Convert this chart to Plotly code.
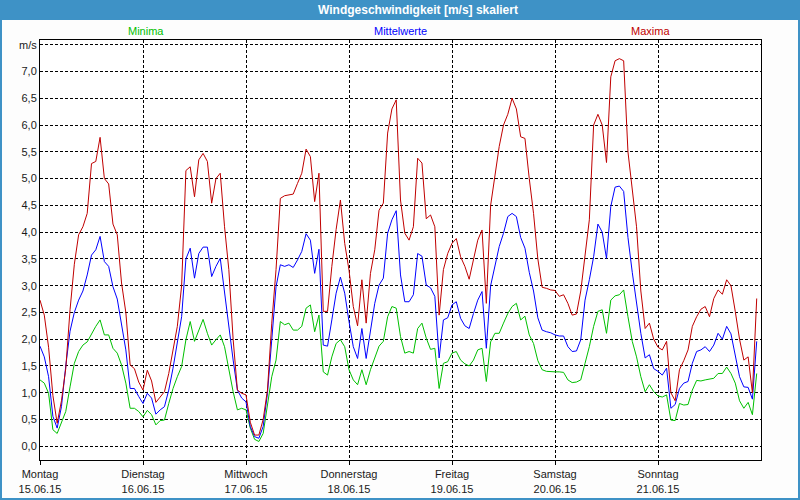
import plotly.graph_objects as go

hours = list(range(168))

maxima = [
    2.73, 2.45, 1.85, 0.95, 0.43, 0.85, 1.45, 2.55, 3.4, 3.95,
    4.1, 4.35, 5.28, 5.32, 5.77, 5.0, 4.9, 4.15, 3.95, 3.05,
    2.5, 1.52, 1.45, 1.2, 1.05, 1.42, 1.22, 0.82, 0.92, 1.02,
    1.36, 1.80, 2.24, 3.0, 5.15, 5.22, 4.66, 5.35, 5.47, 5.32,
    4.54, 5.0, 5.10, 4.1, 3.3, 2.0, 1.05, 0.99, 0.96, 0.45,
    0.21, 0.21, 0.5, 1.05, 2.3, 3.3, 4.63, 4.68, 4.70, 4.71,
    4.91, 5.10, 5.55, 5.41, 4.57, 5.10, 2.52, 2.52, 3.36, 4.05,
    4.60, 3.79, 3.29, 2.61, 2.25, 3.11, 2.30, 3.23, 3.67, 4.41,
    4.54, 5.85, 6.3, 6.47, 4.6, 3.98, 3.85, 4.1, 5.38, 5.29,
    4.25, 4.32, 4.1, 2.45, 3.3, 3.60, 3.79, 3.88, 3.54, 3.36,
    3.12, 3.48, 3.85, 4.04, 2.67, 4.5, 5.1, 5.6, 6.0, 6.2,
    6.5, 6.3, 5.78, 5.75, 5.0, 4.35, 3.5, 2.97, 2.95, 2.92,
    2.91, 2.80, 2.83, 2.67, 2.45, 2.47, 2.9, 3.6, 4.23, 6.0,
    6.2, 6.0, 5.3, 6.9, 7.2, 7.24, 7.2, 5.5, 4.75, 4.1,
    2.9, 2.2, 2.30, 2.0, 1.85, 1.8, 1.96, 1.0, 0.85, 1.43,
    1.6, 1.8, 2.24, 2.42, 2.56, 2.61, 2.42, 2.76, 2.92, 2.84,
    3.11, 3.0, 2.52, 2.0, 1.61, 1.67, 1.0, 2.76,
]

mittelwerte = [
    1.87, 1.67, 1.3, 0.56, 0.34, 0.74, 1.5, 2.15, 2.5, 2.73,
    2.9, 3.2, 3.57, 3.67, 3.92, 3.45, 3.36, 2.98, 2.75, 2.3,
    1.8, 1.08, 1.08, 0.93, 0.8, 0.99, 0.9, 0.6, 0.68, 0.74,
    1.05, 1.46, 1.92, 2.42, 3.5, 3.70, 3.14, 3.60, 3.72, 3.72,
    3.17, 3.36, 3.51, 2.86, 2.24, 1.61, 1.05, 0.90, 0.83, 0.37,
    0.18, 0.15, 0.37, 0.99, 1.99, 2.98, 3.39, 3.36, 3.39, 3.34,
    3.48, 3.64, 3.97, 3.85, 3.23, 3.68, 1.89, 1.87, 2.36, 2.86,
    3.16, 2.86, 2.33, 1.86, 1.64, 2.20, 1.64, 2.17, 2.67, 3.01,
    3.14, 3.98, 4.23, 4.40, 3.2, 2.70, 2.70, 2.83, 3.60, 3.55,
    3.01, 2.96, 2.80, 1.65, 2.36, 2.40, 2.64, 2.70, 2.39, 2.25,
    2.20, 2.48, 2.73, 2.89, 1.83, 3.0, 3.36, 3.73, 3.98, 4.29,
    4.35, 4.29, 3.90, 3.70, 3.25, 2.90, 2.40, 2.17, 2.14, 2.12,
    2.08, 2.06, 2.06, 1.86, 1.77, 1.78, 1.99, 2.73, 3.11, 3.54,
    4.15, 4.0, 3.51, 4.48, 4.84, 4.86, 4.76, 3.9, 3.25, 2.67,
    2.11, 1.65, 1.71, 1.45, 1.40, 1.33, 1.46, 0.71, 0.78, 1.08,
    1.18, 1.21, 1.55, 1.77, 1.80, 1.86, 1.77, 1.89, 2.11, 2.00,
    2.24, 2.10, 1.71, 1.30, 1.11, 1.10, 0.88, 1.96,
]

minima = [
    1.24, 1.18, 0.99, 0.31, 0.24, 0.43, 0.65, 1.11, 1.55, 1.77,
    1.89, 1.95, 2.11, 2.24, 2.36, 2.08, 2.08, 1.83, 1.74, 1.52,
    1.18, 0.71, 0.71, 0.65, 0.55, 0.67, 0.59, 0.4, 0.48, 0.49,
    0.80, 1.08, 1.30, 1.49, 1.99, 2.33, 1.96, 2.17, 2.37, 2.11,
    1.89, 1.99, 2.08, 1.86, 1.43, 1.02, 0.68, 0.71, 0.68, 0.34,
    0.13, 0.09, 0.24, 0.74, 1.30, 1.61, 2.33, 2.27, 2.30, 2.17,
    2.17, 2.24, 2.58, 2.64, 2.14, 2.45, 1.39, 1.33, 1.67, 1.92,
    1.99, 1.86, 1.43, 1.24, 1.15, 1.43, 1.15, 1.43, 1.64, 1.87,
    1.96, 2.42, 2.61, 2.58, 2.05, 1.74, 1.77, 1.74, 2.20, 2.30,
    2.02, 1.81, 1.83, 1.08, 1.55, 1.58, 1.74, 1.77, 1.61, 1.54,
    1.50, 1.61, 1.80, 1.83, 1.21, 1.95, 2.11, 2.11, 2.30, 2.48,
    2.61, 2.67, 2.36, 2.43, 2.08, 1.92, 1.60, 1.43, 1.40, 1.39,
    1.39, 1.39, 1.38, 1.24, 1.19, 1.20, 1.24, 1.55, 1.86, 2.24,
    2.52, 2.55, 2.11, 2.73, 2.81, 2.83, 2.92, 2.42, 1.96, 1.67,
    1.30, 1.02, 1.15, 1.02, 0.94, 0.92, 0.96, 0.49, 0.48, 0.80,
    0.77, 0.78, 1.05, 1.23, 1.22, 1.24, 1.25, 1.27, 1.36, 1.36,
    1.48, 1.36, 1.18, 0.85, 0.71, 0.82, 0.59, 1.36,
]

day_hours = [0, 24, 48, 72, 96, 120, 144]
day_names = ["Montag", "Dienstag", "Mittwoch", "Donnerstag", "Freitag", "Samstag", "Sonntag"]
day_dates = ["15.06.15", "16.06.15", "17.06.15", "18.06.15", "19.06.15", "20.06.15", "21.06.15"]

y_ticks = [0, 0.5, 1, 1.5, 2, 2.5, 3, 3.5, 4, 4.5, 5, 5.5, 6, 6.5, 7, 7.5]
y_tick_labels = ["0,0", "0,5", "1,0", "1,5", "2,0", "2,5", "3,0", "3,5", "4,0",
                 "4,5", "5,0", "5,5", "6,0", "6,5", "7,0", "m/s"]

title_text = "Windgeschwindigkeit [m/s] skaliert"
series_names = ["Minima", "Mittelwerte", "Maxima"]
series_colors = ["#00c000", "#0000ff", "#c00000"]

W, H = 800, 500
ML, MR, MT, MB = 40, 39, 40, 40
PW, PH = W - ML - MR, H - MT - MB

def px_x(p):
    return (p - ML) / PW

def px_y(p):
    return 1 - (p - MT) / PH

fig = go.Figure()
for name, vals, col in [(series_names[0], minima, series_colors[0]),
                        (series_names[1], mittelwerte, series_colors[1]),
                        (series_names[2], maxima, series_colors[2])]:
    fig.add_trace(go.Scatter(x=hours, y=vals, mode="lines", name=name,
                             line=dict(color=col, width=1), showlegend=False))

font_family = "Liberation Sans, Arial, sans-serif"

fig.update_layout(
    width=W, height=H,
    autosize=False,
    margin=dict(l=ML, r=MR, t=MT, b=MB, pad=0, autoexpand=False),
    paper_bgcolor="#fdfdfd",
    plot_bgcolor="#ffffff",
    font=dict(family=font_family, size=11, color="#1a1a1a"),
    xaxis=dict(
        range=[0, 168],
        tickmode="array",
        tickvals=day_hours,
        ticktext=[f"{n}<br>{d}" for n, d in zip(day_names, day_dates)],
        showgrid=True, gridcolor="#000000", gridwidth=1, griddash="3px,2px",
        showline=True, linecolor="#000000", linewidth=1, mirror=True,
        ticks="outside", ticklen=4, tickcolor="#000000",
        zeroline=False, fixedrange=True, automargin=False,
    ),
    yaxis=dict(
        range=[-0.256, 7.588],
        tickmode="array",
        tickvals=y_ticks,
        ticktext=y_tick_labels,
        showgrid=True, gridcolor="#000000", gridwidth=1, griddash="3px,2px",
        showline=True, linecolor="#000000", linewidth=1, mirror=True,
        ticks="", zeroline=False, fixedrange=True, automargin=False,
    ),
    shapes=[
        dict(type="rect", xref="paper", yref="paper",
             x0=px_x(0), x1=px_x(W), y0=px_y(20), y1=px_y(0),
             fillcolor="#3e92c6", line=dict(width=0), layer="above"),
        dict(type="rect", xref="paper", yref="paper",
             x0=px_x(1), x1=px_x(W - 1), y0=px_y(H - 1), y1=px_y(1),
             fillcolor="rgba(0,0,0,0)", line=dict(color="#3e92c6", width=2), layer="above"),
    ],
    annotations=[
        dict(text=f"<b>{title_text}</b>", xref="paper", yref="paper",
             x=px_x(418), y=px_y(10), showarrow=False, xanchor="center", yanchor="middle",
             font=dict(color="#ffffff", size=12, family=font_family)),
        dict(text=series_names[0], xref="paper", yref="paper", x=px_x(146), y=px_y(31),
             showarrow=False, xanchor="center", yanchor="middle",
             font=dict(color=series_colors[0], size=11)),
        dict(text=series_names[1], xref="paper", yref="paper", x=px_x(400), y=px_y(31),
             showarrow=False, xanchor="center", yanchor="middle",
             font=dict(color=series_colors[1], size=11)),
        dict(text=series_names[2], xref="paper", yref="paper", x=px_x(650), y=px_y(31),
             showarrow=False, xanchor="center", yanchor="middle",
             font=dict(color=series_colors[2], size=11)),
    ],
)

fig.write_html(
    "out.html",
    config={"displayModeBar": False, "responsive": False},
    post_script="document.body.style.margin='0px';document.body.style.overflow='hidden';",
)
